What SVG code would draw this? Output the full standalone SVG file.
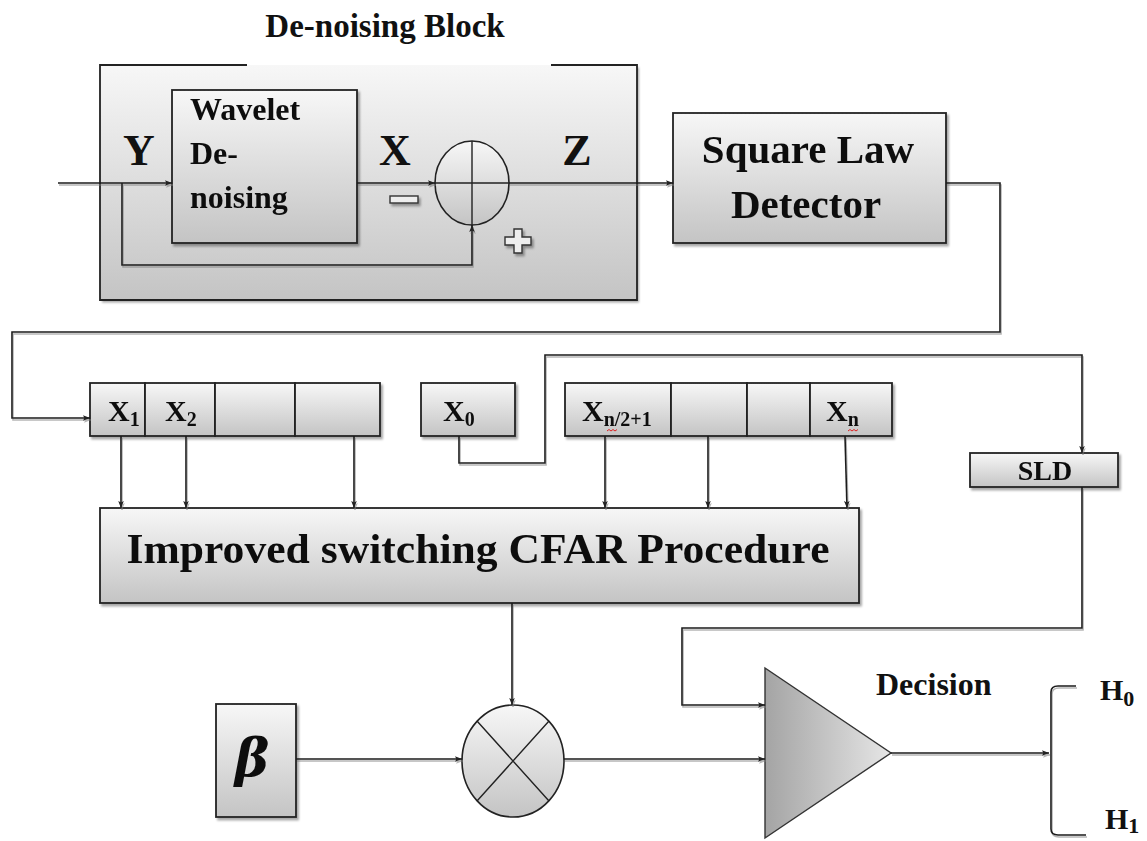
<svg xmlns="http://www.w3.org/2000/svg" width="1147" height="841" viewBox="0 0 1147 841">
<defs>
  <linearGradient id="gbox" x1="0" y1="0" x2="0" y2="1">
    <stop offset="0" stop-color="#f7f7f7"/>
    <stop offset="1" stop-color="#c4c4c4"/>
  </linearGradient>
  <linearGradient id="gtri" x1="0" y1="0" x2="1" y2="0">
    <stop offset="0" stop-color="#a4a4a4"/>
    <stop offset="1" stop-color="#e6e6e6"/>
  </linearGradient>
  <filter id="sh" filterUnits="userSpaceOnUse" x="0" y="0" width="1147" height="841">
    <feDropShadow dx="2" dy="2.5" stdDeviation="1.2" flood-color="#000" flood-opacity="0.35"/>
  </filter>
  <filter id="lsh" filterUnits="userSpaceOnUse" x="0" y="0" width="1147" height="841">
    <feDropShadow dx="1" dy="2" stdDeviation="0.6" flood-color="#777" flood-opacity="0.55"/>
  </filter>
  <marker id="ar" viewBox="0 0 10 10" refX="10" refY="5" markerWidth="9" markerHeight="7" orient="auto" markerUnits="userSpaceOnUse">
    <path d="M0,1 L10,5 L0,9 L2,5 Z" fill="#222"/>
  </marker>
  <style>
    .ln { fill: none; stroke: #1c1c1c; stroke-width: 1.6; }
    .bx { fill: url(#gbox); stroke: #222; stroke-width: 1.8; }
    .t { font-family: "Liberation Serif", "Times New Roman", serif; font-weight: bold; fill: #111; }
    .m { text-anchor: middle; }
  </style>
</defs>
<rect width="1147" height="841" fill="#fff"/>

<g id="denoising-block">
  <rect x="100" y="65" width="537" height="235" fill="url(#gbox)" filter="url(#sh)"/>
  <path d="M247,65 H100 V300 H637 V65 H551" fill="none" stroke="#222" stroke-width="1.8"/>
  <text class="t m" x="385" y="37" font-size="33">De-noising Block</text>
</g>

<g id="wavelet" filter="url(#sh)">
  <rect class="bx" x="172" y="90" width="185" height="153"/>
  <text class="t" x="190" y="120" font-size="32">Wavelet</text>
  <text class="t" x="190" y="164" font-size="32">De-</text>
  <text class="t" x="190" y="208" font-size="32">noising</text>
</g>

<g id="signal-labels">
  <text class="t m" x="139" y="165" font-size="44">Y</text>
  <text class="t m" x="395" y="165" font-size="44">X</text>
  <text class="t m" x="577" y="165" font-size="44">Z</text>
  <rect x="390" y="196" width="28" height="7" fill="#eee" stroke="#333" stroke-width="1.4" filter="url(#sh)"/>
  <path d="M514,229 h8 v8 h9 v8 h-9 v8 h-8 v-8 h-9 v-8 h9 z" fill="#eee" stroke="#333" stroke-width="1.4" filter="url(#sh)"/>
</g>

<g id="summer">
  <ellipse cx="472" cy="183" rx="37" ry="42" fill="url(#gbox)" stroke="#222" stroke-width="1.6"/>
  <path d="M472,141 V225 M435,183 H509" stroke="#222" stroke-width="1.4"/>
</g>

<g id="square-law" filter="url(#sh)">
  <rect class="bx" x="673" y="113" width="273" height="130"/>
  <text class="t m" x="808" y="163" font-size="41">Square Law</text>
  <text class="t m" x="806" y="218" font-size="41">Detector</text>
</g>

<g id="cells-left" filter="url(#sh)">
  <rect class="bx" x="90" y="383" width="55" height="53"/>
  <rect class="bx" x="145" y="383" width="70" height="53"/>
  <rect class="bx" x="215" y="383" width="80" height="53"/>
  <rect class="bx" x="295" y="383" width="85" height="53"/>
  <text class="t" x="108" y="421" font-size="30">X<tspan font-size="20" dy="5">1</tspan></text>
  <text class="t" x="165" y="421" font-size="30">X<tspan font-size="20" dy="5">2</tspan></text>
</g>

<g id="cell-x0" filter="url(#sh)">
  <rect class="bx" x="421" y="383" width="94" height="53"/>
  <text class="t" x="443" y="421" font-size="30">X<tspan font-size="20" dy="5">0</tspan></text>
</g>

<g id="cells-right" filter="url(#sh)">
  <rect class="bx" x="565" y="383" width="106" height="53"/>
  <rect class="bx" x="671" y="383" width="76" height="53"/>
  <rect class="bx" x="747" y="383" width="63" height="53"/>
  <rect class="bx" x="810" y="383" width="82" height="53"/>
  <text class="t" x="582" y="421" font-size="30">X<tspan font-size="20" dy="5">n/2+1</tspan></text>
  <text class="t" x="826" y="421" font-size="30">X<tspan font-size="20" dy="5">n</tspan></text>
  <path d="M607,431 l2,-1.5 l2,1.5 l2,-1.5 l2,1.5 l2,-1.5 M848,431 l2,-1.5 l2,1.5 l2,-1.5 l2,1.5 l2,-1.5" fill="none" stroke="#d22" stroke-width="1"/>
</g>

<g id="sld" filter="url(#sh)">
  <rect class="bx" x="970" y="453" width="148" height="34"/>
  <text class="t m" x="1045" y="480" font-size="28">SLD</text>
</g>

<g id="cfar" filter="url(#sh)">
  <rect class="bx" x="100" y="508" width="759" height="95"/>
  <text class="t m" x="478" y="563" font-size="42" textLength="703" lengthAdjust="spacingAndGlyphs">Improved switching CFAR Procedure</text>
</g>

<g id="beta" filter="url(#sh)">
  <rect class="bx" x="216" y="704" width="80" height="113"/>
  <text x="252" y="776" font-size="52" font-family="'DejaVu Serif', 'Liberation Serif', serif" font-weight="bold" font-style="italic" fill="#111" text-anchor="middle">β</text>
</g>

<g id="multiplier">
  <ellipse cx="513" cy="761" rx="51" ry="56" fill="url(#gbox)" stroke="#222" stroke-width="1.6"/>
  <path d="M477,721 L549,801 M549,721 L477,801" stroke="#222" stroke-width="1.4"/>
</g>

<g id="comparator">
  <polygon points="765,668 765,838 891,753" fill="url(#gtri)" stroke="#333" stroke-width="1.4"/>
  <text class="t" x="876" y="695" font-size="32">Decision</text>
</g>

<g id="outputs">
  <text class="t" x="1100" y="700" font-size="30">H<tspan font-size="22" dy="6">0</tspan></text>
  <text class="t" x="1105" y="829" font-size="30">H<tspan font-size="22" dy="4">1</tspan></text>
</g>

<g id="connectors" class="ln" filter="url(#lsh)">
  <path d="M58,183 H172" marker-end="url(#ar)"/>
  <path d="M122,183 V265 H472 V225" marker-end="url(#ar)"/>
  <path d="M357,183 H435" marker-end="url(#ar)"/>
  <path d="M509,183 H673" marker-end="url(#ar)"/>
  <path d="M946,183 H1000 V332 H12 V418 H90" marker-end="url(#ar)"/>
  <path d="M459,436 V463 H545 V355 H1082 V453" marker-end="url(#ar)"/>
  <path d="M121,436 V508" marker-end="url(#ar)"/>
  <path d="M186,436 V508" marker-end="url(#ar)"/>
  <path d="M354,436 V508" marker-end="url(#ar)"/>
  <path d="M605,436 V508" marker-end="url(#ar)"/>
  <path d="M708,436 V508" marker-end="url(#ar)"/>
  <path d="M845,436 L847,508" marker-end="url(#ar)"/>
  <path d="M512,603 V705" marker-end="url(#ar)"/>
  <path d="M296,759 H462" marker-end="url(#ar)"/>
  <path d="M564,759 H765" marker-end="url(#ar)"/>
  <path d="M1082,487 V628 H682 V705 H765" marker-end="url(#ar)"/>
  <path d="M891,753 H1049" marker-end="url(#ar)"/>
  <path d="M1076,686 H1058 Q1051,686 1051,692 V829 Q1051,835 1058,835 H1086"/>
</g>
</svg>
